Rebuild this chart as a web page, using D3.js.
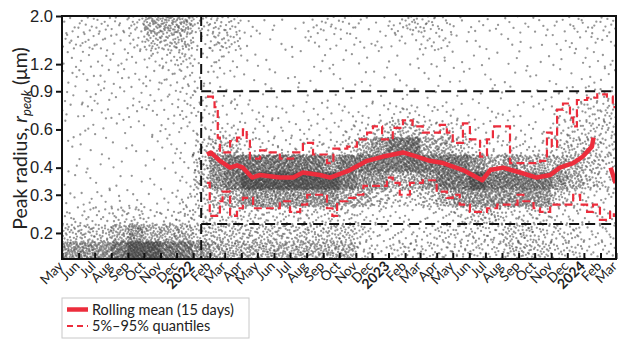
<!DOCTYPE html>
<html>
<head>
<meta charset="utf-8">
<script src="https://cdn.jsdelivr.net/npm/d3@7"></script>
<style>
  body { margin: 0; background: #fff; }
  svg { font-family: Lato, "Open Sans", sans-serif; }
</style>
</head>
<body>
<div id="container"></div>
<script>
// month tick labels, May 2021 -> Mar 2024 (January shows the year)
const tickLabels = ["May","Jun","Jul","Aug","Sep","Oct","Nov","Dec",
  "2022","Feb","Mar","Apr","May","Jun","Jul","Aug","Sep","Oct","Nov","Dec",
  "2023","Feb","Mar","Apr","May","Jun","Jul","Aug","Sep","Oct","Nov","Dec",
  "2024","Feb","Mar"];
const yTicks = [0.2, 0.3, 0.4, 0.6, 0.9, 1.2, 2.0];

// scatter cloud, read as density levels (0-9) per month and per log bin
// each string goes bottom bin -> top bin (14 bins of 0.08 decade, 0.152 .. 2.0 um)
const densityMonths = ["2021-05","2021-06","2021-07","2021-08","2021-09","2021-10","2021-11","2021-12",
  "2022-01","2022-02","2022-03","2022-04","2022-05","2022-06","2022-07","2022-08","2022-09","2022-10","2022-11","2022-12",
  "2023-01","2023-02","2023-03","2023-04","2023-05","2023-06","2023-07","2023-08","2023-09","2023-10","2023-11","2023-12",
  "2024-01","2024-02"];
const densityLevels = [
  "75321111222233","75321112222233","75321111222233","86421111222223",
  "97421011222234","96311112222356","86321122223356","86432222333456",
  "75445543332234","65457753222344","65468853221244","65479832211112",
  "65479832211111","65479832211011","65479832111111","65479832211123",
  "65479732211123","65468843211123","44367863211122","33357874211122",
  "43246885311123","43246885311124","43357864211134","44368864211233",
  "44478853211112","44579732111112","44578632211112","55478732211112",
  "55478632111112","54478632111112","44357643321122","44346654321123",
  "33335554431223","33334444432223"];
const levelCounts = [0, 2, 4, 8, 15, 26, 45, 75, 120, 200];

// rolling mean (15 days)
const meanDates = ["2022-01-27","2022-02-03","2022-02-20","2022-03-11","2022-03-24","2022-04-04","2022-04-21",
  "2022-05-06","2022-06-12","2022-07-07","2022-07-25","2022-08-26","2022-09-14","2022-10-21","2022-11-22",
  "2022-12-22","2023-01-28","2023-02-23","2023-03-19","2023-04-13","2023-05-20","2023-06-25","2023-07-10",
  "2023-08-03","2023-09-04","2023-10-05","2023-10-30","2023-11-17","2023-12-12","2023-12-30","2024-01-16",
  "2024-01-19","2024-01-20","2024-02-20","2024-02-29"];
const meanValues = [0.46, 0.47, 0.43, 0.40, 0.41, 0.40, 0.36,
  0.37, 0.36, 0.36, 0.38, 0.37, 0.36, 0.39, 0.43,
  0.45, 0.47, 0.45, 0.43, 0.42, 0.39, 0.35, 0.39,
  0.40, 0.38, 0.36, 0.37, 0.40, 0.42, 0.45, 0.50,
  0.55, null, 0.40, 0.34];

// 5% and 95% quantiles
const upperDates = ["2022-01-27","2022-02-07","2022-02-10","2022-02-16","2022-02-20","2022-03-11","2022-03-24",
  "2022-04-04","2022-04-11","2022-04-17","2022-05-06","2022-05-24","2022-06-12","2022-07-07","2022-07-25",
  "2022-08-13","2022-09-08","2022-09-20","2022-10-16","2022-11-03","2022-11-22","2022-12-03","2022-12-20",
  "2023-01-09","2023-01-28","2023-02-15","2023-03-06","2023-04-07","2023-04-20","2023-05-01","2023-05-20",
  "2023-06-02","2023-06-21","2023-07-04","2023-07-15","2023-08-03","2023-08-16","2023-09-23","2023-10-11",
  "2023-10-24","2023-11-02","2023-11-12","2023-11-23","2023-12-06","2023-12-12","2023-12-19","2024-01-07",
  "2024-01-26","2024-02-13","2024-02-24","2024-03-01"];
const upperValues = [0.85, 0.82, 0.76, 0.55, 0.47, 0.53, 0.55,
  0.60, 0.54, 0.44, 0.48, 0.47, 0.44, 0.47, 0.52,
  0.46, 0.42, 0.49, 0.50, 0.54, 0.58, 0.62, 0.54,
  0.61, 0.66, 0.62, 0.58, 0.63, 0.58, 0.52, 0.64,
  0.54, 0.45, 0.54, 0.62, 0.62, 0.42, 0.42, 0.43,
  0.58, 0.50, 0.74, 0.79, 0.68, 0.62, 0.82, 0.84,
  0.87, 0.85, 0.76, 0.76];
const lowerDates = ["2022-01-27","2022-02-01","2022-02-14","2022-02-20","2022-02-25","2022-03-11","2022-03-24",
  "2022-04-04","2022-04-23","2022-05-19","2022-06-12","2022-07-01","2022-07-20","2022-08-02","2022-08-21",
  "2022-09-08","2022-09-18","2022-09-27","2022-10-16","2022-11-03","2022-11-15","2022-12-03","2022-12-29",
  "2023-01-09","2023-01-22","2023-02-10","2023-03-06","2023-04-01","2023-04-20","2023-05-01","2023-05-14",
  "2023-06-02","2023-06-15","2023-07-04","2023-07-23","2023-08-11","2023-08-30","2023-09-10","2023-09-29",
  "2023-10-11","2023-10-30","2023-11-30","2023-12-12","2023-12-25","2024-01-07","2024-01-18","2024-01-31",
  "2024-02-19","2024-02-26","2024-03-01"];
const lowerValues = [0.34, 0.24, 0.24, 0.28, 0.31, 0.24, 0.26,
  0.29, 0.26, 0.26, 0.28, 0.25, 0.27, 0.30, 0.30,
  0.26, 0.24, 0.28, 0.29, 0.30, 0.33, 0.33, 0.36,
  0.34, 0.30, 0.34, 0.35, 0.31, 0.29, 0.30, 0.27,
  0.25, 0.25, 0.26, 0.27, 0.27, 0.30, 0.28, 0.26,
  0.25, 0.27, 0.27, 0.30, 0.27, 0.25, 0.27, 0.23,
  0.25, 0.24, 0.24];

// dashed selection box
const boxStart = "2022-01-16";
const boxUpper = 0.9;
const boxLower = 0.22;

const red = "#ec2d3c";
const parse = d3.utcParse("%Y-%m-%d");
const parseMonth = d3.utcParse("%Y-%m");

const main = (container) => {
    const W = 621, H = 342;
    const margin = { top: 16, right: 5, bottom: 83, left: 62 };
    const width = W - margin.left - margin.right;
    const height = H - margin.top - margin.bottom;

    const svg = d3.select(container).append("svg")
        .attr("width", W).attr("height", H);
    const g = svg.append("g")
        .attr("transform", `translate(${margin.left},${margin.top})`);

    const tickDates = d3.utcMonth.range(new Date(Date.UTC(2021, 4, 1)), new Date(Date.UTC(2024, 2, 2)));

    const x = d3.scaleUtc()
        .domain([tickDates[0], tickDates[tickDates.length - 1]])
        .range([0, width]);
    const yMin = Math.pow(10, Math.log10(2) - 14 * 0.08);
    const y = d3.scaleLog()
        .domain([yMin, 2.0])
        .range([height, 0]);

    g.append("clipPath").attr("id", "plot-clip")
        .append("rect").attr("width", width).attr("height", height);
    const plot = g.append("g").attr("clip-path", "url(#plot-clip)");

    // halton sequence for placing dots inside each density cell
    const halton = (i, b) => {
        let f = 1, r = 0;
        while (i > 0) { f /= b; r += f * (i % b); i = Math.floor(i / b); }
        return r;
    };

    const dots = [];
    densityMonths.forEach((m, mi) => {
        const t0 = parseMonth(m);
        const t1 = d3.utcMonth.offset(t0, 1);
        densityLevels[mi].split("").forEach((c, bi) => {
            const n = levelCounts[+c];
            const lo = Math.log10(yMin) + bi * 0.08;
            const off = (mi * 14 + bi) * 211 + 7;
            for (let k = 0; k < n; k++) {
                const u = halton(k + off, 2), v = halton(k + off, 3);
                dots.push({
                    date: new Date(+t0 + u * (t1 - t0)),
                    value: Math.pow(10, lo + v * 0.08)
                });
            }
        });
    });

    plot.append("g").selectAll("circle")
        .data(dots)
        .join("circle")
        .attr("cx", d => x(d.date))
        .attr("cy", d => y(d.value))
        .attr("r", 1.15)
        .attr("fill", "#3e3e3e")
        .attr("fill-opacity", 0.55);

    // dashed black box
    const dashBox = { stroke: "#111", width: 2, dash: "10,6" };
    plot.append("line")
        .attr("x1", x(parse(boxStart))).attr("x2", x(parse(boxStart)))
        .attr("y1", 0).attr("y2", height)
        .attr("stroke", dashBox.stroke).attr("stroke-width", dashBox.width)
        .attr("stroke-dasharray", dashBox.dash);
    [boxUpper, boxLower].forEach(v => {
        plot.append("line")
            .attr("x1", x(parse(boxStart))).attr("x2", width)
            .attr("y1", y(v)).attr("y2", y(v))
            .attr("stroke", dashBox.stroke).attr("stroke-width", dashBox.width)
            .attr("stroke-dasharray", dashBox.dash);
    });

    // quantiles
    const qLine = d3.line()
        .x(d => x(d[0]))
        .y(d => y(d[1]))
        .curve(d3.curveStepAfter);
    [[upperDates, upperValues], [lowerDates, lowerValues]].forEach(([ds, vs]) => {
        plot.append("path")
            .datum(ds.map((d, i) => [parse(d), vs[i]]))
            .attr("d", qLine)
            .attr("fill", "none")
            .attr("stroke", red)
            .attr("stroke-width", 2.2)
            .attr("stroke-dasharray", "8,4");
    });

    // rolling mean
    const mLine = d3.line()
        .defined(d => d[1] != null)
        .x(d => x(d[0]))
        .y(d => y(d[1]));
    plot.append("path")
        .datum(meanDates.map((d, i) => [parse(d), meanValues[i]]))
        .attr("d", mLine)
        .attr("fill", "none")
        .attr("stroke", red)
        .attr("stroke-width", 4.5)
        .attr("stroke-linejoin", "round");

    // frame
    g.append("rect")
        .attr("width", width).attr("height", height)
        .attr("fill", "none").attr("stroke", "#111").attr("stroke-width", 2);

    // y axis
    const yAxis = g.append("g")
        .call(d3.axisLeft(y).tickValues(yTicks).tickFormat(d3.format(".1f")).tickSize(6).tickPadding(3));
    yAxis.select(".domain").remove();
    yAxis.selectAll("line").attr("stroke", "#111").attr("stroke-width", 2);
    yAxis.selectAll("text").attr("fill", "#222").style("font-size", "16.5px");

    // x axis, ticks pointing inward
    const xAxis = g.append("g")
        .attr("transform", `translate(0,${height})`)
        .call(d3.axisBottom(x).tickValues(tickDates).tickSizeInner(-6).tickSizeOuter(0).tickFormat(""));
    xAxis.select(".domain").remove();
    xAxis.selectAll("line").attr("stroke", "#111").attr("stroke-width", 2);

    g.append("g").selectAll("text")
        .data(tickDates)
        .join("text")
        .attr("transform", d => `translate(${x(d) + 1},${height + 7}) rotate(-45)`)
        .attr("text-anchor", "end")
        .attr("dy", "0.1em")
        .attr("fill", "#222")
        .style("font-size", (d, i) => /^\d/.test(tickLabels[i]) ? "14px" : "13.5px")
        .style("font-weight", (d, i) => /^\d/.test(tickLabels[i]) ? "bold" : "normal")
        .text((d, i) => tickLabels[i]);

    // y label
    const yl = svg.append("text")
        .attr("transform", `translate(27,${margin.top + height / 2 + 1}) rotate(-90)`)
        .attr("text-anchor", "middle")
        .attr("fill", "#222")
        .style("font-size", "19.5px");
    yl.append("tspan").text("Peak radius, ");
    yl.append("tspan").style("font-style", "italic").text("r");
    yl.append("tspan").style("font-style", "italic").style("font-size", "13px")
        .attr("dy", "4").text("peak");
    yl.append("tspan").attr("dy", "-4").text(" (\u03bcm)");

    // legend
    const legend = svg.append("g").attr("transform", "translate(62,298)");
    legend.append("rect")
        .attr("width", 187).attr("height", 40)
        .attr("fill", "#fff").attr("stroke", "#c8c8c8").attr("stroke-width", 1);
    legend.append("line")
        .attr("x1", 5).attr("x2", 26).attr("y1", 11.5).attr("y2", 11.5)
        .attr("stroke", red).attr("stroke-width", 4.5);
    legend.append("text")
        .attr("x", 30).attr("y", 16.5)
        .attr("fill", "#222").style("font-size", "14.5px")
        .text("Rolling mean (15 days)");
    legend.append("line")
        .attr("x1", 5).attr("x2", 26).attr("y1", 28).attr("y2", 28)
        .attr("stroke", red).attr("stroke-width", 2).attr("stroke-dasharray", "6,4");
    legend.append("text")
        .attr("x", 30).attr("y", 33)
        .attr("fill", "#222").style("font-size", "14.5px")
        .text("5%\u201395% quantiles");
};

const container = document.getElementById("container");
main(container);
</script>
</body>
</html>
